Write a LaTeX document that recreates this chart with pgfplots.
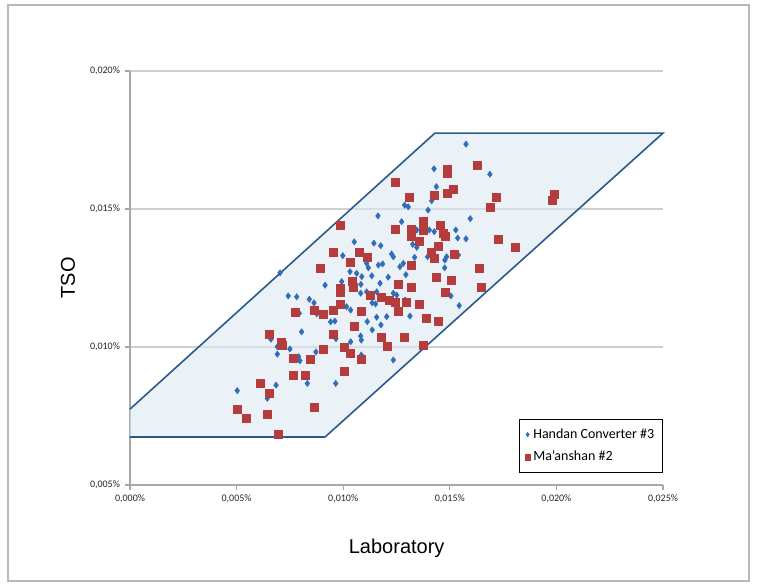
\documentclass[border=0pt]{standalone}
\usepackage{fontspec}
\setmainfont{Carlito}
\newfontfamily\arialf{Liberation Sans}
\usepackage{pgfplots}
\pgfplotsset{compat=1.18}
\definecolor{hblue}{HTML}{2F6EB8}
\definecolor{mred}{HTML}{B43C3C}
\definecolor{bandedge}{HTML}{2A5A8C}
\definecolor{bandfill}{HTML}{DCE8F2}
\definecolor{axgray}{HTML}{A8A8A8}
\definecolor{gridgray}{HTML}{CFCFCF}

\begin{document}
\begin{tikzpicture}
\useasboundingbox (-97.5pt,-73.5pt) rectangle (470.25pt,363.75pt);
\draw[gray!55, line width=0.8pt] (-91.5pt,-72pt) rectangle (464.25pt,360pt);
\begin{axis}[
  at={(0pt,0pt)}, anchor=south west,
  scale only axis, width=399.75pt, height=310.5pt,
  xmin=0, xmax=25, ymin=5, ymax=20,
  clip=false,
  axis lines*=left,
  axis line style={-, axgray, line width=0.8pt},
  xtick={0,5,10,15,20,25}, ytick={5,10,15,20},
  xticklabels={{0,000\%},{0,005\%},{0,010\%},{0,015\%},{0,020\%},{0,025\%}},
  yticklabels={{0,005\%},{0,010\%},{0,015\%},{0,020\%}},
  tick label style={font=\fontsize{7.5}{9}\selectfont, text=black!85},
  tick align=outside, major tick length=4pt,
  tick style={axgray, line width=0.8pt},
  ymajorgrids, major grid style={gridgray, line width=0.8pt},
  legend style={at={(1,0)}, anchor=south east, yshift=9pt,
    draw=black, line width=1.1pt, font=\fontsize{10.5}{12}\selectfont,
    row sep=4pt, inner xsep=4pt, inner ysep=5pt},
  legend cell align=left,
]
% band (fill, then edges)
\addplot[draw=none, fill=bandfill, fill opacity=0.6, forget plot]
  coordinates {(0,6.74) (9.15,6.74) (25,17.75) (14.3,17.75) (0,7.75)} -- cycle;
\addplot[draw=bandedge, line width=1.2pt, forget plot]
  coordinates {(0,7.75) (14.3,17.75) (25,17.75) (9.15,6.74) (0,6.74)};

% Handan Converter #3
\addplot[only marks, mark=diamond*, mark size=2.4pt,
  mark options={draw=hblue, fill=hblue, line width=0.3pt},
  legend image post style={mark size=1.7pt}]
  coordinates {
  (10.52,13.81)(11.44,13.76)(11.76,13.67)(11.63,14.75)(9.98,13.31)(12.27,13.37)(12.35,13.27)
  (15.76,17.35)(14.26,16.46)(16.88,16.26)(14.37,15.81)(15.04,15.62)(14.15,15.30)(13.98,14.96)
  (12.88,15.14)(13.05,15.08)(15.96,14.65)(12.74,14.54)(13.45,14.24)(14.04,14.24)(14.27,14.18)
  (15.28,14.24)(15.37,13.95)(15.76,13.92)(13.26,13.72)(13.45,13.61)(13.35,13.25)(13.96,13.27)
  (14.85,13.27)(14.77,13.15)(15.40,13.33)(12.82,13.03)(12.66,12.91)(14.76,12.87)(12.94,12.62)
  (15.05,11.85)(12.90,11.70)(15.44,11.50)(13.13,11.12)
  (7.04,12.69)(11.10,13.03)(11.65,12.97)(11.85,13.01)(11.18,12.87)(10.32,12.73)(10.63,12.67)
  (10.87,12.55)(11.34,12.58)(12.11,12.53)(11.73,12.31)(9.15,12.24)(9.93,12.37)(10.83,12.27)
  (10.82,11.95)(11.10,12.00)(11.57,12.00)(12.35,11.95)(12.51,11.88)(7.42,11.85)(7.82,11.82)
  (8.41,11.73)(8.63,11.60)(11.36,11.60)(11.52,11.56)(10.16,11.46)(10.35,11.34)(7.94,11.22)
  (8.76,11.20)(9.41,10.91)(9.61,10.94)(11.13,10.92)(11.57,11.08)(12.04,11.10)(11.36,10.62)
  (8.05,10.55)(10.82,10.40)(10.85,10.25)(9.66,10.30)(6.61,10.28)(6.91,10.01)(6.91,9.74)
  (10.35,10.19)(7.50,9.93)(10.85,9.71)(12.35,9.53)(7.91,9.65)(7.97,9.50)(8.72,9.82)
  (8.32,8.68)(9.65,8.68)(6.85,8.62)(6.44,8.14)(5.03,8.42)(11.77,10.80)
  };
\addlegendentry{Handan Converter \#3}

% Ma'anshan #2
\addplot[only marks, mark=square*, mark size=3pt,
  mark options={draw=mred, fill=mred, line width=0.3pt},
  legend image post style={mark size=2.2pt}]
  coordinates {
  (12.44,15.97)(12.46,14.26)(9.85,14.41)(9.53,13.43)(10.75,13.44)(11.13,13.25)
  (16.27,16.59)(14.88,16.44)(14.88,16.29)(15.16,15.73)(14.90,15.57)(14.27,15.50)(13.08,15.43)
  (17.18,15.43)(19.89,15.53)(19.82,15.33)(16.88,15.08)(13.76,14.55)(14.57,14.41)(13.17,14.26)
  (13.17,14.02)(13.76,14.24)(14.67,14.12)(14.77,14.02)(17.26,13.91)(13.57,13.84)(14.46,13.66)
  (18.09,13.63)(14.15,13.42)(14.26,13.21)(15.20,13.37)(13.17,12.95)(16.38,12.87)(14.35,12.54)
  (15.07,12.43)(13.18,12.16)(16.49,12.18)(14.77,11.98)(12.94,11.64)(13.57,11.56)(13.88,11.03)
  (14.46,10.95)(12.88,10.35)(13.76,10.07)
  (8.94,12.84)(10.35,13.09)(10.44,12.40)(10.47,12.18)(9.85,12.13)(9.85,12.00)(11.26,11.88)
  (11.76,11.80)(12.58,12.28)(12.15,11.68)(12.43,11.64)(9.85,11.56)(8.64,11.34)(9.04,11.19)
  (9.53,11.32)(10.85,11.29)(7.75,11.26)(12.58,11.28)(10.52,10.76)(6.53,10.47)(9.53,10.47)
  (11.76,10.37)(7.11,10.19)(7.16,10.07)(12.07,10.04)(9.04,9.92)(10.04,9.99)(10.35,9.77)
  (10.85,9.57)(7.66,9.59)(8.44,9.55)(10.05,9.13)(7.66,8.99)(8.22,8.99)(6.13,8.68)(6.53,8.34)
  (8.64,7.83)(5.03,7.74)(5.44,7.42)(6.44,7.57)(6.93,6.85)
  };
\addlegendentry{Ma'anshan \#2}
\end{axis}
\node[font=\arialf\fontsize{15}{18}\selectfont, rotate=90] at (-46.5pt,155.25pt) {TSO};
\node[font=\arialf\fontsize{15}{18}\selectfont] at (200pt,-47.25pt) {Laboratory};
\end{tikzpicture}
\end{document}
